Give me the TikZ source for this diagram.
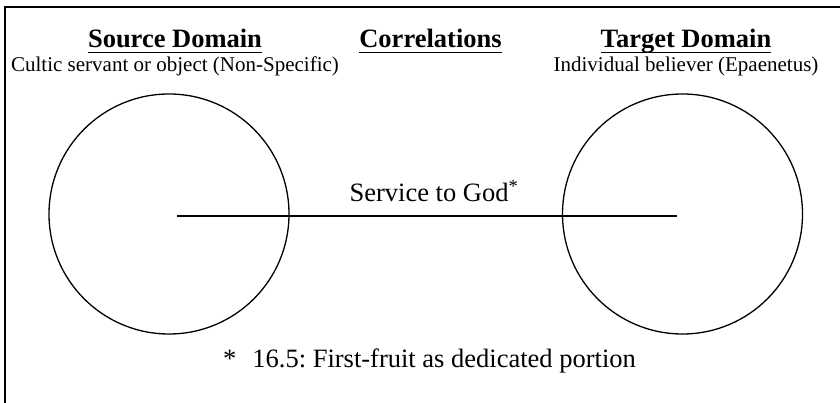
\documentclass[tikz,border=0pt]{standalone}
\usepackage{fontspec}
\setmainfont{Liberation Serif}
\frenchspacing
\begin{document}
\begin{tikzpicture}[x=1pt,y=-1pt,
  framelines/.style={line width=1.8pt},
  domaincircle/.style={draw,circle,minimum size=240pt,inner sep=0pt,line width=1.3pt},
  linkline/.style={line width=1.6pt},
  titletext/.style={anchor=base,inner sep=0pt,font=\fontsize{26.5}{30}\selectfont\bfseries},
  subtext/.style={anchor=base,inner sep=0pt,font=\fontsize{21}{24}\selectfont},
  bodytext/.style={anchor=base,inner sep=0pt,font=\fontsize{26.5}{30}\selectfont},
  uline/.style={line width=1.8pt}]
\useasboundingbox (0,0) rectangle (840,403);
\draw[framelines] (5,403) -- (5,7) -- (840,7);
% titles
\node[titletext] (st) at (175,48) {Source Domain};
\node[titletext] (ct) at (430.5,48) {Correlations};
\node[titletext] (tt) at (686,48) {Target Domain};
\foreach \n in {st,ct,tt}
  \draw[uline] ([yshift=-4.5pt]\n.base west) -- ([yshift=-4.5pt]\n.base east);
\node[subtext] (ss) at (175,72) {Cultic servant or object (Non-Specific)};
\node[subtext] (ts) at (686,72) {Individual believer (Epaenetus)};
% circles
\node[domaincircle] (src) at (169,214) {};
\node[domaincircle] (tgt) at (682.5,214) {};
\coordinate (a) at (177,216);
\coordinate (b) at (677,216);
\draw[linkline] (a) -- (b);
\node[bodytext] (lab) at (434,201.5) {Service to God\textsuperscript{*}};
\node[bodytext,anchor=base west] (fn) at (223,367.5) {*\hspace{16pt}16.5: First-fruit as dedicated portion};
\end{tikzpicture}
\end{document}
